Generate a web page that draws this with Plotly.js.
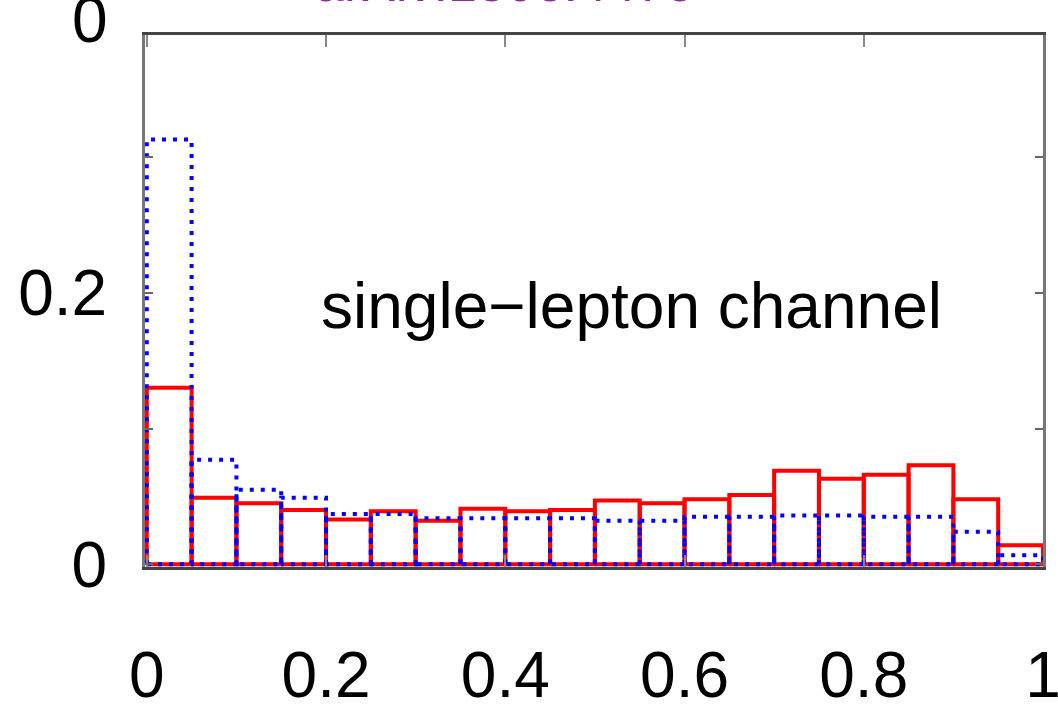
<!DOCTYPE html>
<html>
<head>
<meta charset="utf-8">
<script src="https://cdn.plot.ly/plotly-3.0.1.min.js"></script>
<style>
html,body{margin:0;padding:0;background:#fff;}
#chart{width:1058px;height:722px;}
</style>
</head>
<body>
<div id="chart"></div>
<script>
// bin edges (lower edge of each bin), width 0.05
const binWidth = 0.05;
const binLow = [0.00,0.05,0.10,0.15,0.20,0.25,0.30,0.35,0.40,0.45,0.50,0.55,0.60,0.65,0.70,0.75,0.80,0.85,0.90,0.95];
// red solid histogram
const redVals = [0.130,0.049,0.045,0.040,0.033,0.039,0.032,0.041,0.039,0.040,0.047,0.045,0.048,0.051,0.069,0.063,0.066,0.073,0.048,0.014];
// blue dotted histogram
const blueVals = [0.313,0.077,0.055,0.049,0.037,0.037,0.034,0.034,0.034,0.034,0.032,0.032,0.035,0.035,0.036,0.036,0.035,0.035,0.024,0.0066];
const xTickVals = [0,0.2,0.4,0.6,0.8,1];
const xTickText = ["0","0.2","0.4","0.6","0.8","1"];
const yTickVals = [0,0.1,0.2,0.3];
const yTickText = ["0","","0.2",""];
const labelText = "single\u2212lepton channel";
const topLabel = "arXiv:1306.4476";

function boxes(vals){
  const xs=[], ys=[];
  for(let i=0;i<vals.length;i++){
    const x0=binLow[i], x1=binLow[i]+binWidth, h=vals[i];
    xs.push(x0,x0,x1,x1,x0,null);
    ys.push(0,h,h,0,0,null);
  }
  return {x:xs,y:ys};
}
const r=boxes(redVals), b=boxes(blueVals);
const FONT = '"Liberation Sans", Arial, sans-serif';

const traces=[
  {x:r.x,y:r.y,type:'scatter',mode:'lines',line:{color:'#ff0000',width:4},hoverinfo:'skip',showlegend:false},
  {x:b.x,y:b.y,type:'scatter',mode:'lines',line:{color:'#0000ff',width:4,dash:'4px,7px'},hoverinfo:'skip',showlegend:false}
];

const layout={
  width:1058,height:722,
  margin:{l:145,r:15,t:35,b:155},
  paper_bgcolor:'#fff',plot_bgcolor:'#fff',
  showlegend:false,
  font:{family:FONT,color:'#000'},
  xaxis:{range:[-0.002,1],tickvals:xTickVals,ticktext:xTickText,ticks:'inside',ticklen:12,tickwidth:2,tickcolor:'#888',
    showline:true,linecolor:'#444',linewidth:3,mirror:'ticks',showgrid:false,zeroline:false,
    tickfont:{size:64,family:FONT,color:'#000'},ticklabelstandoff:50,ticklabeloverflow:'allow'},
  yaxis:{range:[-0.002,0.39],tickvals:yTickVals,ticktext:yTickText,ticks:'inside',ticklen:8,tickwidth:2,tickcolor:'#666',
    showline:true,linecolor:'#777',linewidth:3,mirror:'ticks',showgrid:false,zeroline:false,
    tickfont:{size:64,family:FONT,color:'#000'},ticklabelstandoff:22,ticklabeloverflow:'allow'},
  annotations:[
    {x:0.541,y:0.19,xref:'x',yref:'y',text:labelText,showarrow:false,xanchor:'center',yanchor:'middle',
      font:{size:64,family:FONT,color:'#000'}},
    {x:0,y:1,xref:'paper',yref:'paper',text:'0',showarrow:false,xanchor:'right',yanchor:'middle',xshift:-35,yshift:15,
      font:{size:64,family:FONT,color:'#000'}},
    {x:0.4,y:1,xref:'paper',yref:'paper',text:topLabel,showarrow:false,xanchor:'center',yanchor:'bottom',yshift:21,
      font:{size:52,family:FONT,color:'#8e2a9a'}}
  ]
};
Plotly.newPlot('chart',traces,layout,{staticPlot:true,displayModeBar:false});
</script>
</body>
</html>
